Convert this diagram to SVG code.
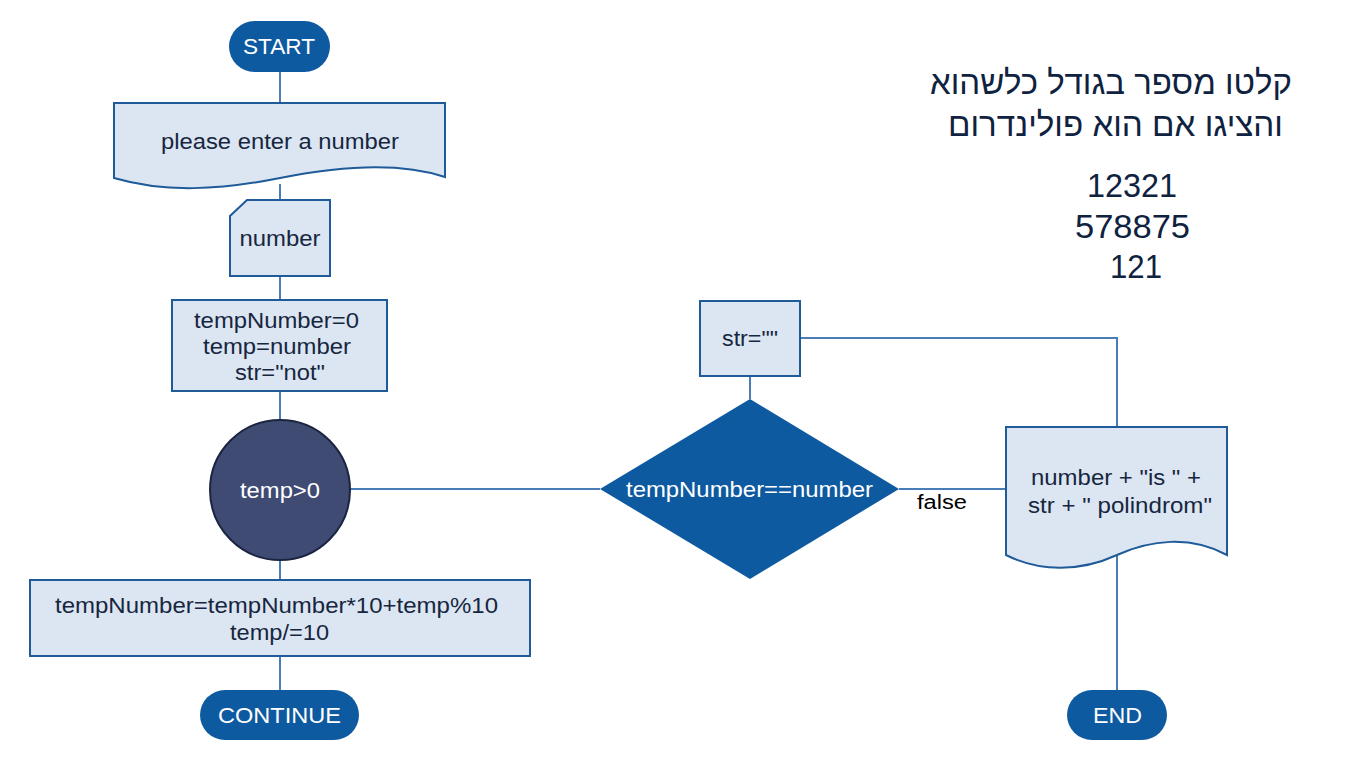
<svg xmlns="http://www.w3.org/2000/svg" width="1351" height="760" viewBox="0 0 1351 760">
<style>
.conn{stroke:#4A7DB5;stroke-width:2;fill:none}
.box{fill:#DCE6F2;stroke:#1F5A99;stroke-width:2}
.pill{fill:#0E5AA0;stroke:none}
.t{font-family:"Liberation Sans","DejaVu Sans",sans-serif;font-size:22px;fill:#17263F;text-anchor:middle}
.w{fill:#FFFFFF}
.big{font-size:33px;fill:#0F2240}
.num{font-size:34px;fill:#0F2240}
</style>
<rect width="1351" height="760" fill="#FFFFFF"/>
<g id="connectors">
<path class="conn" d="M280,72V103"/>
<path class="conn" d="M280,184V200"/>
<path class="conn" d="M280,276V300"/>
<path class="conn" d="M280,391V420"/>
<path class="conn" d="M280,560V580"/>
<path class="conn" d="M280,656V690"/>
<path class="conn" d="M350,489H600"/>
<path class="conn" d="M750,376V399"/>
<path class="conn" d="M899,489H1006"/>
<path class="conn" d="M800,338H1117V427"/>
<path class="conn" d="M1117,553V690"/>
<text class="t" x="942" y="509" style="font-size:20px;fill:#000" textLength="50" lengthAdjust="spacingAndGlyphs">false</text>
</g>
<g id="start">
<rect class="pill" x="229" y="21" width="101" height="51" rx="25.5"/>
<text class="t w" x="279" y="54" textLength="72" lengthAdjust="spacingAndGlyphs">START</text>
</g>
<g id="prompt">
<path class="box" d="M114,103H445V177C400,162 340,166 280,178C220,190 165,193 114,178Z"/>
<text class="t" x="280" y="149" textLength="238" lengthAdjust="spacingAndGlyphs">please enter a number</text>
</g>
<g id="input">
<path class="box" d="M247,200H330V276H230V216Z"/>
<text class="t" x="280" y="246" textLength="81" lengthAdjust="spacingAndGlyphs">number</text>
</g>
<g id="init">
<rect class="box" x="172" y="300" width="215" height="91"/>
<text class="t" x="276.5" y="328" textLength="165" lengthAdjust="spacingAndGlyphs">tempNumber=0</text>
<text class="t" x="277" y="354" textLength="148" lengthAdjust="spacingAndGlyphs">temp=number</text>
<text class="t" x="280" y="380" textLength="90" lengthAdjust="spacingAndGlyphs">str="not"</text>
</g>
<g id="loop">
<circle cx="280" cy="490" r="70" fill="#3F4B73" stroke="#1B2440" stroke-width="2"/>
<text class="t w" x="280" y="498" textLength="80" lengthAdjust="spacingAndGlyphs">temp&gt;0</text>
</g>
<g id="body">
<rect class="box" x="30" y="580" width="500" height="76"/>
<text class="t" x="276.5" y="613" textLength="443" lengthAdjust="spacingAndGlyphs">tempNumber=tempNumber*10+temp%10</text>
<text class="t" x="279.5" y="640" textLength="99" lengthAdjust="spacingAndGlyphs">temp/=10</text>
</g>
<g id="continue">
<rect class="pill" x="200" y="690" width="159" height="50" rx="25"/>
<text class="t w" x="279.5" y="723" textLength="123" lengthAdjust="spacingAndGlyphs">CONTINUE</text>
</g>
<g id="decision">
<path d="M750,399L899,489L750,579L600,489Z" fill="#0E5AA0"/>
<text class="t w" x="749.5" y="497" textLength="247" lengthAdjust="spacingAndGlyphs">tempNumber==number</text>
</g>
<g id="strEmpty">
<rect class="box" x="700" y="301" width="100" height="75"/>
<text class="t" x="750" y="346" textLength="56" lengthAdjust="spacingAndGlyphs">str=""</text>
</g>
<g id="output">
<path class="box" d="M1006,427H1227V555C1190,535 1150,540 1117,555C1080,572 1040,572 1006,555Z"/>
<text class="t" x="1116" y="485" textLength="170" lengthAdjust="spacingAndGlyphs">number + "is " +</text>
<text class="t" x="1120" y="513" textLength="184" lengthAdjust="spacingAndGlyphs">str + " polindrom"</text>
</g>
<g id="end">
<rect class="pill" x="1067" y="690" width="100" height="50" rx="25"/>
<text class="t w" x="1117.5" y="723" textLength="49" lengthAdjust="spacingAndGlyphs">END</text>
</g>
<g id="title">
<text class="t big" x="1111" y="94" textLength="362" lengthAdjust="spacingAndGlyphs">קלטו מספר בגודל כלשהוא</text>
<text class="t big" x="1115.5" y="136" textLength="335" lengthAdjust="spacingAndGlyphs">והציגו אם הוא פולינדרום</text>
<text class="t num" x="1132" y="197" textLength="90" lengthAdjust="spacingAndGlyphs">12321</text>
<text class="t num" x="1132.5" y="237.5" textLength="115" lengthAdjust="spacingAndGlyphs">578875</text>
<text class="t num" x="1136" y="278" textLength="52" lengthAdjust="spacingAndGlyphs">121</text>
</g>
</svg>
